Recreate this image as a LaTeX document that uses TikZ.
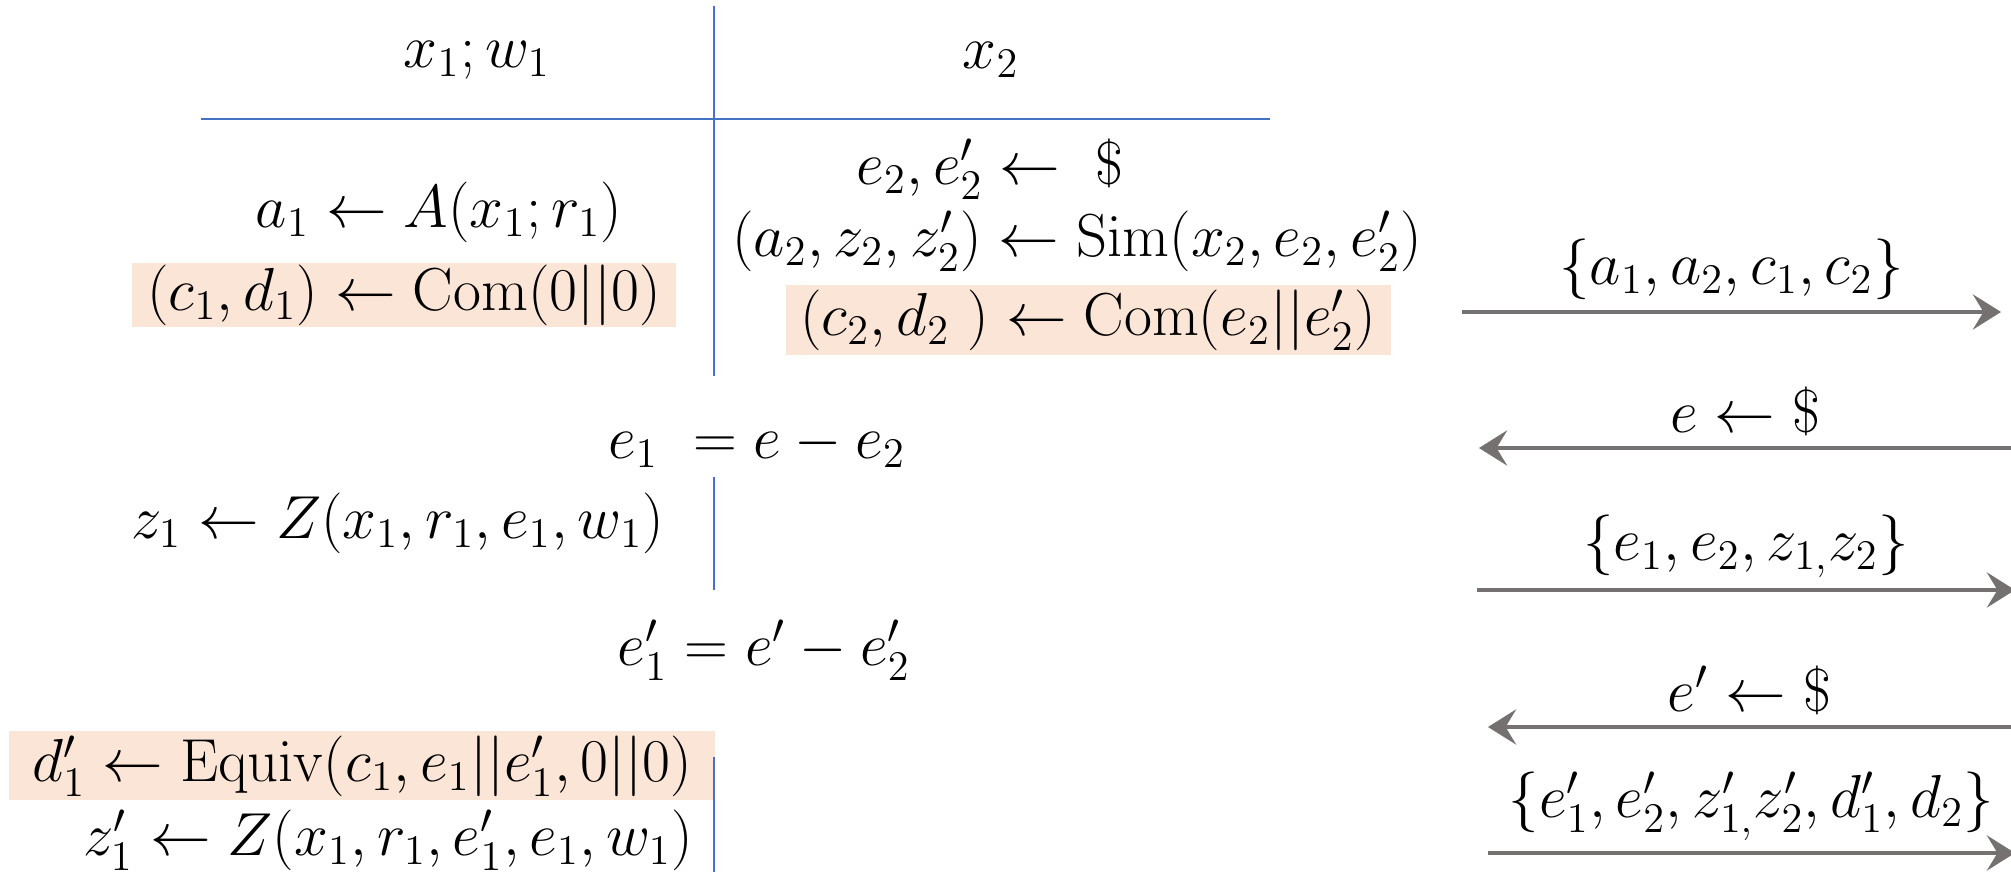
\documentclass[tikz,border=0pt]{standalone}
\usepackage{amssymb}
\usepackage{tikz}
\usetikzlibrary{arrows.meta,positioning,calc}
\definecolor{rule}{RGB}{68,114,196}
\definecolor{peach}{RGB}{251,229,214}
\definecolor{msg}{RGB}{118,113,113}

\begin{document}
\begin{tikzpicture}[
  font=\fontsize{17}{20}\selectfont,
  tx/.style={inner sep=0pt,anchor=center},
  hi/.style={fill=peach,inner sep=0pt,anchor=center},
  sep/.style={draw=rule,line width=0.7pt},
  ar/.style={-{Stealth[length=8pt,width=10pt,inset=3pt]},line width=1.1pt,draw=msg},
  lb/.style={above=3pt,inner sep=0pt}]
\useasboundingbox (0,0) rectangle (20.11,-8.78);

% table rules
\coordinate (t0) at (7.14,-0.06);
\coordinate (t1) at (7.14,-3.76);
\coordinate (h0) at (2.01,-1.19);
\coordinate (h1) at (12.70,-1.19);
\draw[sep] (t0) -- (t1);
\draw[sep] (h0) -- (h1);

\node[tx] (hl) at (4.77,-0.60) {$x_1; w_1$};
\node[tx] (hr) at (9.91,-0.60) {$x_2$};

% first move
\node[tx] (rnd) at (9.90,-1.69) {$e_2, e_2' \gets \ \$$};
\node[tx] (a1) at (4.39,-2.12) {$a_1 \gets A(x_1; r_1)$};
\node[tx] (sim) at (10.77,-2.41) {$(a_2, z_2, z_2') \gets \mathrm{Sim}(x_2, e_2, e_2')$};
\node[hi,minimum width=5.44cm,minimum height=0.64cm] (com1) at (4.04,-2.95)
  {$(c_1, d_1) \gets \mathrm{Com}(0||0)$};
\node[hi,minimum width=6.05cm,minimum height=0.70cm] (com2) at (10.88,-3.20)
  {$(c_2, d_2\ ) \gets \mathrm{Com}(e_2||e_2')$};

% second move
\node[tx] (e1) at (7.57,-4.45) {$e_1\ = e - e_2$};
\coordinate (m0) at (7.14,-4.77);
\coordinate (m1) at (7.14,-5.90);
\draw[sep] (m0) -- (m1);
\node[tx] (z1) at (3.98,-5.23) {$z_1 \gets Z(x_1, r_1, e_1, w_1)$};

% third move
\node[tx] (e1p) at (7.64,-6.50) {$e_1' = e' - e_2'$};
\node[hi,minimum width=7.05cm,minimum height=0.69cm] (eqv) at (3.62,-7.66)
  {$d_1' \gets \mathrm{Equiv}(c_1, e_1||e_1', 0||0)$};
\coordinate (b0) at (7.14,-7.57);
\coordinate (b1) at (7.14,-8.72);
\draw[sep] (b0) -- (b1);
\node[tx] (z1p) at (3.88,-8.40) {$z_1' \gets Z(x_1, r_1, e_1', e_1, w_1)$};

% messages
\coordinate (p1) at (14.62,-3.12);  \coordinate (q1) at (20.01,-3.12);
\coordinate (p2) at (20.11,-4.48);  \coordinate (q2) at (14.79,-4.48);
\coordinate (p3) at (14.77,-5.90);  \coordinate (q3) at (20.15,-5.90);
\coordinate (p4) at (20.11,-7.27);  \coordinate (q4) at (14.88,-7.27);
\coordinate (p5) at (14.88,-8.53);  \coordinate (q5) at (20.15,-8.53);

\draw[ar] (p1) -- node[lb] (l1) {$\{a_1, a_2, c_1, c_2\}$} (q1);
\draw[ar] (p2) -- node[lb] (l2) {$e \gets \$$} (q2);
\draw[ar] (p3) -- node[lb] (l3) {$\{e_1, e_2, z_{1,} z_2\}$} (q3);
\draw[ar] (p4) -- node[lb] (l4) {$e' \gets \$$} (q4);
\draw[ar] (p5) -- node[lb] (l5) {$\{e_1', e_2', z_{1,}' z_2', d_1', d_2\}$} (q5);
\end{tikzpicture}
\end{document}
